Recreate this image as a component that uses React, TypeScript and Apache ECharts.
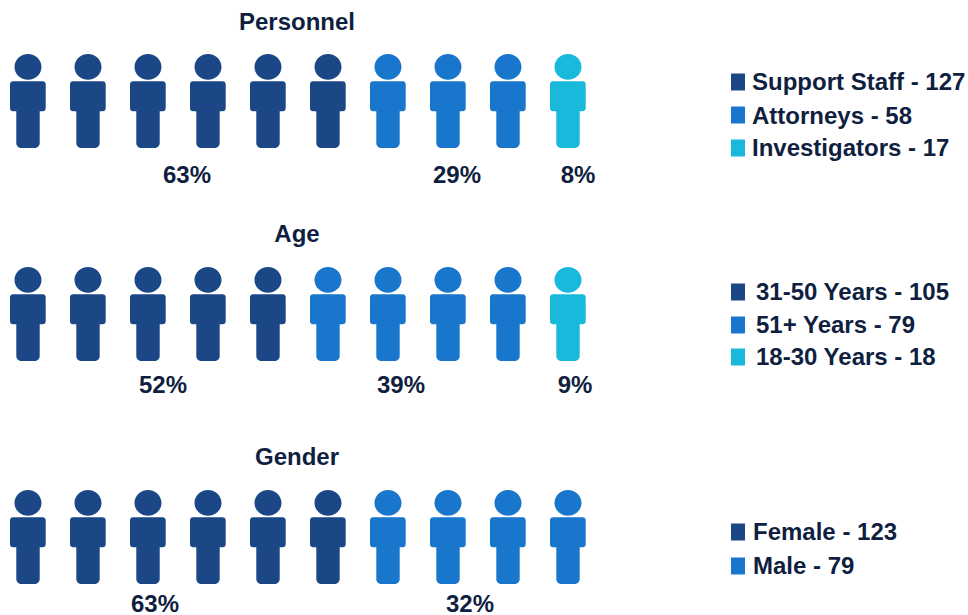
import React, { useEffect, useRef } from "react";
import * as echarts from "echarts";

const DARK = "#1B4786";
const MID = "#1877CC";
const LIGHT = "#19B9DC";
const INK = "#101F3F";
const FONT = "'Liberation Sans', Arial, sans-serif";

const rowTitles = ["Personnel", "Age", "Gender"];
const titleCenters = [297, 297, 297];
const titleYs = [21, 233, 456];
const rowCenters = [101, 314, 537];

const personnelCounts = [6, 3, 1];
const ageCounts = [5, 4, 1];
const genderCounts = [6, 4];
const rowCounts = [personnelCounts, ageCounts, genderCounts];
const rowColors = [[DARK, MID, LIGHT], [DARK, MID, LIGHT], [DARK, MID]];

const personnelLegend = ["Support Staff - 127", "Attorneys - 58", "Investigators - 17"];
const ageLegend = ["31-50 Years - 105", "51+ Years - 79", "18-30 Years - 18"];
const genderLegend = ["Female - 123", "Male - 79"];
const legends = [personnelLegend, ageLegend, genderLegend];
const legendYs = [[82, 115, 148], [292, 325, 357], [532, 566]];
const legendTextY = [[81.5, 115, 147.5], [291.5, 324.5, 356.5], [531.5, 565.5]];
const legendTextX = [752, 756, 753];
const legendBoxX = [731, 731, 731];

const percentLabels = [
  [["63%", 187, 174], ["29%", 457, 174], ["8%", 578, 174]],
  [["52%", 163, 384], ["39%", 401, 384], ["9%", 575, 384]],
  [["63%", 155, 603], ["32%", 470, 603]],
];

const PERSON =
  "path://M18 0C25.5 0 31.5 5.8 31.5 12.9C31.5 20 25.5 25.7 18 25.7C10.5 25.7 4.5 20 4.5 12.9C4.5 5.8 10.5 0 18 0Z" +
  "M3 27.3L32.7 27.3C34.4 27.3 35.7 28.6 35.7 30.3L35.7 54.3C35.7 56 34.4 57.3 32.7 57.3L29.7 57.3L29.7 89C29.7 91.8 27.5 94 24.7 94L11.3 94C8.5 94 6.3 91.8 6.3 89L6.3 57.3L3 57.3C1.3 57.3 0 56 0 54.3L0 30.3C0 28.6 1.3 27.3 3 27.3Z";

export default function App() {
  const ref = useRef<HTMLDivElement>(null);
  useEffect(() => {
    document.body.style.margin = "0";
    const chart = echarts.init(ref.current!, undefined, { renderer: "svg" });
    const grids: any[] = [];
    const xAxes: any[] = [];
    const yAxes: any[] = [];
    const series: any[] = [];
    rowCounts.forEach((counts, r) => {
      grids.push({ left: 27.85, width: 540, top: rowCenters[r] - 10, height: 20 });
      xAxes.push({ gridIndex: r, type: "value", min: 0, max: 9, show: false });
      yAxes.push({ gridIndex: r, type: "value", min: 0, max: 1, show: false });
      let start = 0;
      counts.forEach((n, c) => {
        const data: number[][] = [];
        for (let i = 0; i < n; i++) data.push([start + i, 0.5]);
        start += n;
        series.push({
          type: "scatter",
          name: legends[r][c],
          xAxisIndex: r,
          yAxisIndex: r,
          symbol: PERSON,
          symbolSize: [35.7, 94],
          itemStyle: { color: rowColors[r][c], opacity: 1 },
          silent: true,
          data,
        });
      });
    });
    const textStyle = { fill: INK, font: `bold 24px ${FONT}`, lineHeight: 18, textVerticalAlign: "middle" };
    const graphic: any[] = [];
    legends.forEach((items, r) => {
      items.forEach((t, i) => {
        graphic.push({
          type: "rect",
          shape: { x: legendBoxX[r], y: legendYs[r][i] - 8.5, width: 14, height: 17 },
          style: { fill: rowColors[r][i] },
        });
        graphic.push({
          type: "text",
          x: legendTextX[r],
          y: legendTextY[r][i],
          style: { ...textStyle, text: t, textAlign: "left" },
        });
      });
    });
    percentLabels.forEach((row) =>
      row.forEach(([t, x, y]) =>
        graphic.push({
          type: "text",
          x: x as number,
          y: y as number,
          style: { ...textStyle, text: t as string, textAlign: "center" },
        })
      )
    );
    rowTitles.forEach((t, i) =>
      graphic.push({
        type: "text",
        x: titleCenters[i],
        y: titleYs[i],
        style: { ...textStyle, text: t, textAlign: "center" },
      })
    );
    chart.setOption({
      animation: false,
      backgroundColor: "#fff",
      grid: grids,
      xAxis: xAxes,
      yAxis: yAxes,
      series,
      graphic,
    });
    return () => chart.dispose();
  }, []);
  return <div ref={ref} style={{ width: 968, height: 615 }} />;
}
